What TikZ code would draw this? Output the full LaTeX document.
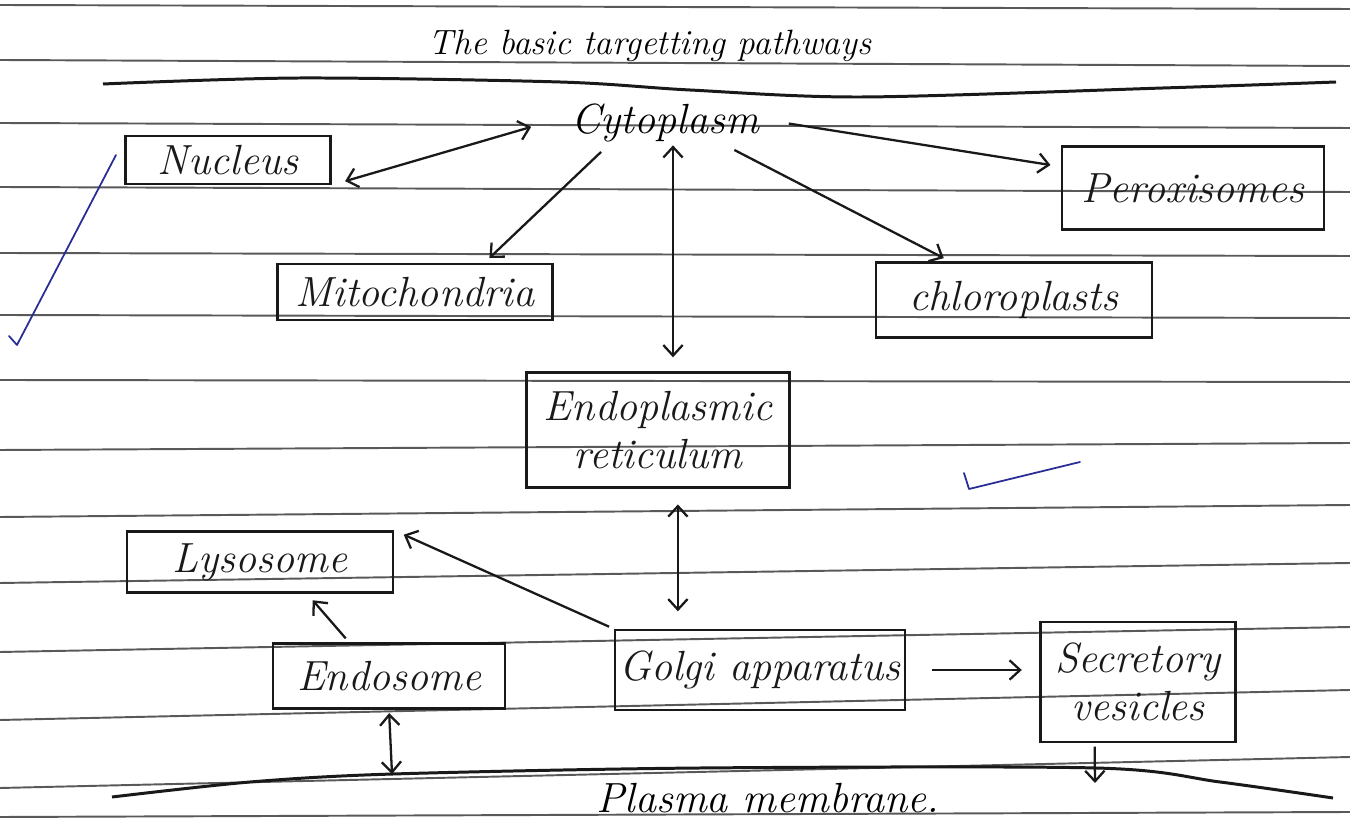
\documentclass[tikz,border=0pt]{standalone}
\usetikzlibrary{arrows.meta,calc}
\definecolor{tickblue}{RGB}{40,45,150}
\newcommand\handfont{\fontsize{24}{27}\selectfont\itshape}
\newcommand\titlefont{\fontsize{20}{23}\selectfont\itshape}
\begin{document}
\begin{tikzpicture}[x=0.02cm,y=-0.02cm,
  ink/.style={line width=1.3pt, black!90},
  ruled/.style={line width=1.1pt, black!65},
  box/.style={draw, ink, inner sep=2pt, align=center, font=\handfont},
  lbl/.style={inner sep=0pt, align=center, font=\handfont},
  tip/.tip={Straight Barb[length=6pt,width=11pt]},
  link/.style={ink, -tip},
  dlink/.style={ink, tip-tip},
  tickmark/.style={line width=1pt, tickblue, line cap=round, line join=round}]
\useasboundingbox (0,0) rectangle (1350,820);
\fill[white] (0,0) rectangle (1350,820);
% ruled notebook lines
\foreach \a/\b in {5/9, 60/66, 123/128, 187/192, 253/256, 315/318, 380/382, 450/443, 517/505, 583/563, 652/627, 720/690, 788/757, 817/812}
  \draw[ruled] (0,\a) -- (1350,\b);
% heavy hand-drawn rules
\draw[ink, line width=1.7pt] plot[smooth] coordinates {(103,84) (300,78) (560,82) (690,90) (862,97) (1163,88) (1336,82)};
\draw[ink, line width=1.7pt] plot[smooth] coordinates {(112,797) (250,782) (393,774) (700,768) (1096,768) (1220,782) (1333,798)};
% blue check marks
\draw[tickmark] (9,336) -- (17,345) -- (116,155);
\draw[tickmark] (964,473) -- (969,489) -- (1080,462);
% texts
\node[lbl, font=\titlefont] (title) at (650,46) {The basic targetting pathways};
\node[lbl, minimum width=4.8cm, minimum height=1cm] (cyto) at (665,123) {Cytoplasm};
\node[lbl] (pmtext) at (768,798) {Plasma membrane.};
% boxes
\node[box, minimum width=4.1cm, minimum height=0.96cm] (nucleus) at (228,160) {Nucleus};
\node[box, minimum width=5.24cm, minimum height=1.66cm] (perox) at (1193,188) {Peroxisomes};
\node[box, minimum width=5.5cm, minimum height=1.12cm] (mito) at (415,292) {Mitochondria};
\node[box, minimum width=5.52cm, minimum height=1.5cm] (chloro) at (1014,300) {chloroplasts};
\node[box, minimum width=5.26cm, minimum height=2.3cm] (er) at (658,430) {Endoplasmic\\reticulum};
\node[box, minimum width=5.32cm, minimum height=1.22cm] (lyso) at (260,562) {Lysosome};
\node[box, minimum width=4.64cm, minimum height=1.3cm] (endo) at (389,676) {Endosome};
\node[box, minimum width=5.8cm, minimum height=1.6cm] (golgi) at (760,670) {Golgi apparatus};
\node[box, minimum width=3.9cm, minimum height=2.4cm] (secr) at (1138,682) {Secretory\\vesicles};
% points on the plasma membrane and connector ends
\coordinate (pmA) at (392,774);
\coordinate (pmB) at (1095,783);
\coordinate (cytoS) at ($(cyto.south)+(8,-3)$);
\coordinate (erS) at ($(er.south)!0.15!(er.south east)$);
% connectors
\draw[dlink, shorten <=8pt, shorten >=8pt] (nucleus.south east) -- (cyto.west);
\draw[link, shorten <=2pt, shorten >=6pt] (cyto.east) -- ($(perox.north west)!0.25!(perox.south west)$);
\draw[link, shorten <=3pt, shorten >=4pt] ($(cyto.south west)!0.25!(cyto.south east)$) -- ($(mito.north)!0.5!(mito.north east)$);
\draw[link, shorten <=2pt, shorten >=4pt] ($(cyto.south)!0.55!(cyto.south east)$) -- ($(chloro.north west)!0.27!(chloro.north east)$);
\draw[dlink, shorten >=8pt] (cytoS) -- (cytoS |- er.north);
\draw[dlink, shorten <=9pt, shorten >=10pt] (erS) -- (erS |- golgi.north);
\draw[link, shorten <=3pt, shorten >=6pt] (golgi.north west) -- (lyso.north east);
\draw[link, shorten <=3pt, shorten >=5pt] ($(endo.north west)!0.33!(endo.north east)$) -- ($(lyso.south)!0.35!(lyso.south east)$);
\draw[link, shorten <=15pt, shorten >=10pt] (golgi.east) -- (golgi.east -| secr.west);
\draw[dlink, shorten <=2pt] (endo.south) -- (pmA);
\draw[link, shorten <=2pt] ($(secr.south west)!0.28!(secr.south east)$) -- (pmB);
\end{tikzpicture}
\end{document}
